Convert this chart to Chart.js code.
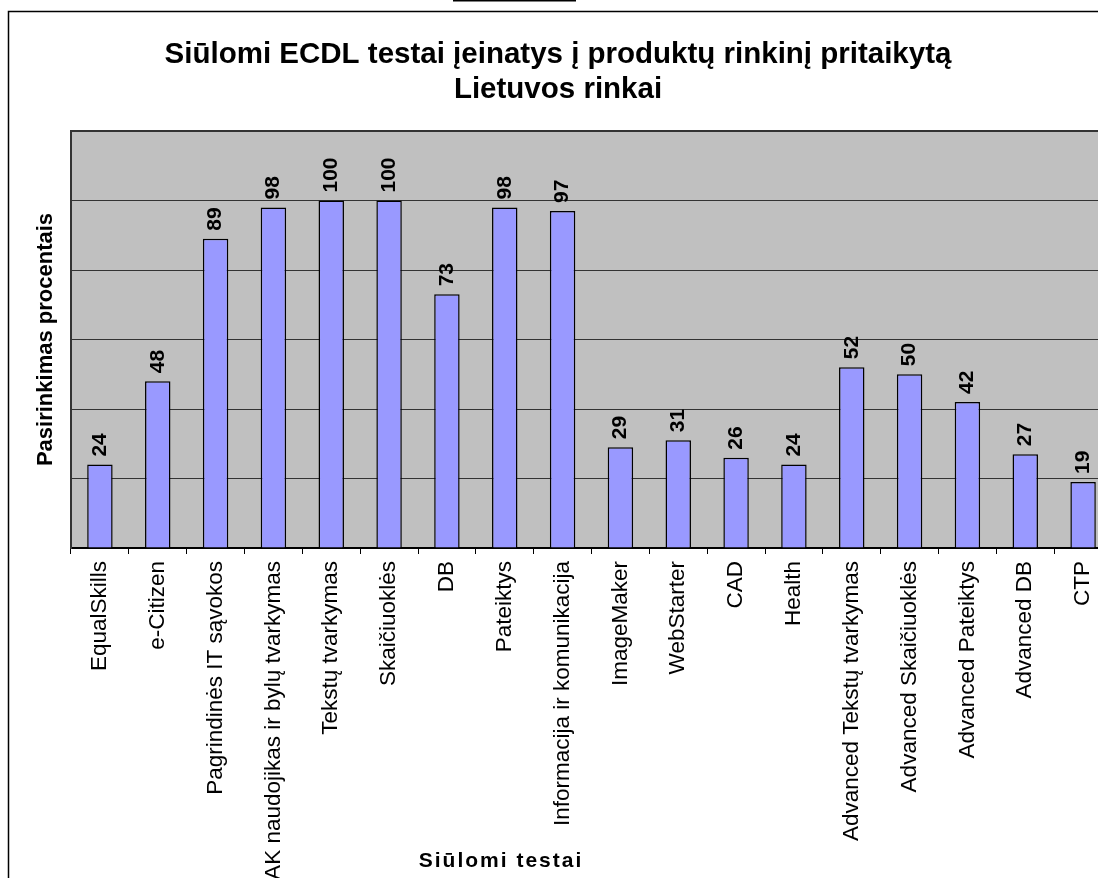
<!DOCTYPE html>
<html>
<head>
<meta charset="utf-8">
<title>Siūlomi ECDL testai</title>
<script src="https://cdn.jsdelivr.net/npm/chart.js@4.4.1/dist/chart.umd.min.js"></script>
<style>
  html, body { margin: 0; padding: 0; background: #fff; overflow: hidden; }
  #wrap { position: absolute; left: 0; top: 0; width: 1120px; height: 900px; }
</style>
</head>
<body>
<div id="wrap"><canvas id="ecdlChart" width="1120" height="900"></canvas></div>
<script>
// chart data
const categories = [
  "EqualSkills", "e-Citizen", "Pagrindinės IT sąvokos", "AK naudojikas ir bylų tvarkymas",
  "Tekstų tvarkymas", "Skaičiuoklės", "DB", "Pateiktys", "Informacija ir komunikacija",
  "ImageMaker", "WebStarter", "CAD", "Health", "Advanced Tekstų tvarkymas",
  "Advanced Skaičiuoklės", "Advanced Pateiktys", "Advanced DB", "CTP"
];
const percentValues = [24, 48, 89, 98, 100, 100, 73, 98, 97, 29, 31, 26, 24, 52, 50, 42, 27, 19];
const yTicks = [0, 20, 40, 60, 80, 100, 120];

const titleLines = ["Siūlomi ECDL testai įeinatys į produktų rinkinį pritaikytą", "Lietuvos rinkai"];
const xTitle = "Siūlomi testai";
const yTitle = "Pasirinkimas procentais";

const FONT = 'Arial, "Liberation Sans", sans-serif';

// frame, plot background and the titles
const decorations = {
  id: "decorations",
  beforeDraw(chart) {
    const { ctx, chartArea } = chart;
    ctx.save();
    ctx.fillStyle = "#c0c0c0";
    ctx.fillRect(chartArea.left, chartArea.top, chartArea.right - chartArea.left, chartArea.bottom - chartArea.top);
    // outer border of the chart object
    ctx.strokeStyle = "#000";
    ctx.lineWidth = 1.5;
    ctx.strokeRect(8.5, 11.5, 1200, 1000);
    // underline of the clipped caption above
    ctx.fillStyle = "#000";
    ctx.fillRect(453, 0, 123, 1.5);
    ctx.restore();
  },
  afterDraw(chart) {
    const { ctx } = chart;
    ctx.save();
    ctx.fillStyle = "#000";
    ctx.textAlign = "center";
    ctx.textBaseline = "alphabetic";
    ctx.font = "bold 29.5px " + FONT;
    ctx.fillText(titleLines[0], 558, 63);
    ctx.fillText(titleLines[1], 558, 98);
    ctx.font = "bold 21px " + FONT;
    ctx.letterSpacing = "2px";
    ctx.fillText(xTitle, 501, 867);
    ctx.restore();
  },
};

// value labels, rotated, above each bar
const barValues = {
  id: "barValues",
  afterDatasetsDraw(chart) {
    const { ctx } = chart;
    const meta = chart.getDatasetMeta(0);
    ctx.save();
    ctx.fillStyle = "#000";
    ctx.font = "bold 21px " + FONT;
    ctx.textAlign = "left";
    ctx.textBaseline = "middle";
    meta.data.forEach((bar, i) => {
      ctx.save();
      ctx.translate(bar.x, bar.y - 8);
      ctx.rotate(-Math.PI / 2);
      ctx.fillText(String(percentValues[i]), 0, 0);
      ctx.restore();
    });
    ctx.restore();
  },
};

new Chart(document.getElementById("ecdlChart"), {
  type: "bar",
  data: {
    labels: categories,
    datasets: [
      {
        data: percentValues,
        backgroundColor: "#9999ff",
        borderColor: "#000",
        borderWidth: 1.5,
        categoryPercentage: 1,
        barPercentage: 0.44,
      },
    ],
  },
  options: {
    responsive: false,
    devicePixelRatio: 1,
    animation: false,
    layout: { padding: { top: 131, left: 0, right: 8, bottom: 0 } },
    plugins: {
      legend: { display: false },
      title: { display: false },
      tooltip: { enabled: false },
    },
    scales: {
      x: {
        grid: {
          offset: true,
          drawOnChartArea: false,
          drawTicks: true,
          tickLength: 6,
          color: "#000",
          lineWidth: 1,
        },
        border: { display: true, color: "#000", width: 2 },
        ticks: {
          autoSkip: false,
          minRotation: 90,
          maxRotation: 90,
          padding: 7,
          color: "#000",
          font: { family: FONT, size: 22.5 },
        },
        afterFit(scale) {
          scale.height = 352;
        },
      },
      y: {
        min: yTicks[0],
        max: yTicks[yTicks.length - 1],
        afterBuildTicks(scale) {
          scale.ticks = yTicks.map((v) => ({ value: v }));
        },
        grid: {
          drawTicks: false,
          color: "#333",
          lineWidth: (c) => (c.tick && c.tick.value === 120 ? 2 : 1),
        },
        border: { display: true, color: "#333", width: 2 },
        ticks: { display: false },
        title: {
          display: true,
          text: yTitle,
          color: "#000",
          font: { family: FONT, size: 22, weight: "bold" },
          padding: { top: 33, bottom: 0 },
        },
        afterFit(scale) {
          scale.width = 71;
        },
      },
    },
  },
  plugins: [decorations, barValues],
});
</script>
</body>
</html>
